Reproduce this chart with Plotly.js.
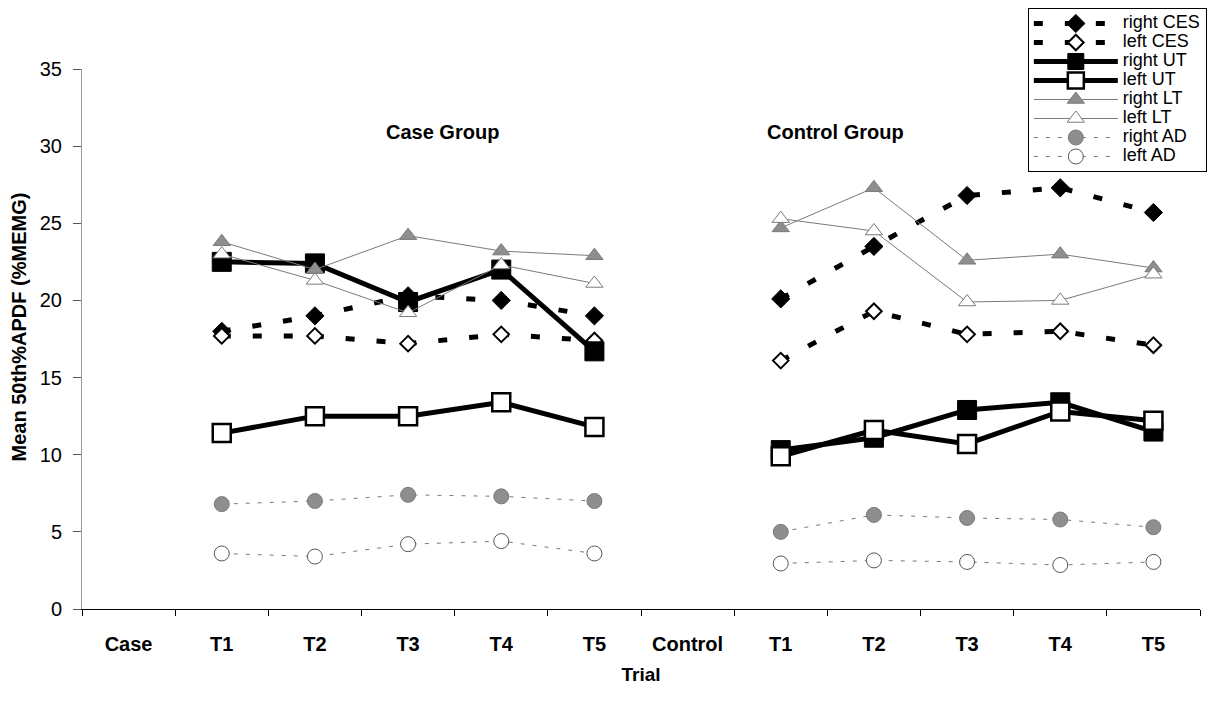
<!DOCTYPE html>
<html><head><meta charset="utf-8">
<script src="https://cdn.plot.ly/plotly-3.0.1.min.js"></script>
<style>html,body{margin:0;padding:0;background:#fff}#chart{width:1227px;height:712px}</style>
</head><body><div id="chart"></div>
<script>
// Category labels along the trial axis (two groups, five trials each)
const tickLabels = ['Case', 'T1', 'T2', 'T3', 'T4', 'T5', 'Control', 'T1', 'T2', 'T3', 'T4', 'T5'];
const seriesNames = ['right CES', 'left CES', 'right UT', 'left UT', 'right LT', 'left LT', 'right AD', 'left AD'];
const groupTitles = ['Case Group', 'Control Group'];

// Mean 50th percentile APDF (%MEMG), trials T1..T5
const caseRightCES = [18.0, 19.0, 20.3, 20.0, 19.0];
const caseLeftCES  = [17.7, 17.7, 17.2, 17.8, 17.4];
const caseRightUT  = [22.5, 22.4, 19.9, 22.0, 16.7];
const caseLeftUT   = [11.4, 12.5, 12.5, 13.4, 11.8];
const caseRightLT  = [23.8, 22.0, 24.2, 23.2, 22.9];
const caseLeftLT   = [23.0, 21.3, 19.2, 22.3, 21.1];
const caseRightAD  = [6.8, 7.0, 7.4, 7.3, 7.0];
const caseLeftAD   = [3.6, 3.4, 4.2, 4.4, 3.6];

const controlRightCES = [20.1, 23.5, 26.8, 27.3, 25.7];
const controlLeftCES  = [16.1, 19.3, 17.8, 18.0, 17.1];
const controlRightUT  = [10.3, 11.1, 12.9, 13.4, 11.5];
const controlLeftUT   = [9.9, 11.6, 10.7, 12.8, 12.2];
const controlRightLT  = [24.7, 27.3, 22.6, 23.0, 22.1];
const controlLeftLT   = [25.3, 24.5, 19.9, 20.0, 21.7];
const controlRightAD  = [5.0, 6.1, 5.9, 5.8, 5.3];
const controlLeftAD   = [2.95, 3.15, 3.05, 2.85, 3.05];

const caseSeries = [caseRightCES, caseLeftCES, caseRightUT, caseLeftUT, caseRightLT, caseLeftLT, caseRightAD, caseLeftAD];
const controlSeries = [controlRightCES, controlLeftCES, controlRightUT, controlLeftUT, controlRightLT, controlLeftLT, controlRightAD, controlLeftAD];

// x positions are the indices of the tick labels; the "Control" slot stays empty so the groups are not joined
const xs = tickLabels.map((_, i) => i).slice(1);

const GRAY = '#7a7a7a';
const FILLGRAY = '#8e8e8e';
const styles = [
  { line: { color: '#000', width: 5, dash: '9px,22px' }, marker: { symbol: 'diamond', size: 14, color: '#000', line: { color: '#000', width: 1 } } },
  { line: { color: '#000', width: 5, dash: '9px,22px' }, marker: { symbol: 'diamond', size: 12, color: '#fff', line: { color: '#000', width: 2 } } },
  { line: { color: '#000', width: 5 }, marker: { symbol: 'square', size: 19, color: '#000', line: { color: '#000', width: 1 } } },
  { line: { color: '#000', width: 5 }, marker: { symbol: 'square', size: 18, color: '#fff', line: { color: '#000', width: 2.5 } } },
  { line: { color: GRAY, width: 1 }, marker: { symbol: 'triangle-up', size: 15, color: FILLGRAY, line: { color: GRAY, width: 1 } } },
  { line: { color: GRAY, width: 1 }, marker: { symbol: 'triangle-up', size: 15, color: '#fff', line: { color: GRAY, width: 1 } } },
  { line: { color: GRAY, width: 1, dash: '4px,8px' }, marker: { symbol: 'circle', size: 15, color: FILLGRAY, line: { color: GRAY, width: 1 } } },
  { line: { color: GRAY, width: 1, dash: '4px,8px' }, marker: { symbol: 'circle', size: 15, color: '#fff', line: { color: '#555', width: 1 } } }
];

const traces = seriesNames.map((name, i) => ({
  type: 'scatter',
  mode: 'lines+markers',
  // legend rows stay compact while the label itself is drawn larger
  name: '<span style="font-size:18px">' + name + '</span>',
  x: xs,
  y: caseSeries[i].concat([null], controlSeries[i]),
  connectgaps: false,
  line: styles[i].line,
  marker: styles[i].marker,
  hoverinfo: 'y'
}));

const FONT = '"Liberation Sans", Arial, Helvetica, sans-serif';

const layout = {
  width: 1227,
  height: 712,
  paper_bgcolor: '#fff',
  plot_bgcolor: '#fff',
  margin: { l: 82, r: 27, t: 69, b: 103, autoexpand: false },
  font: { family: FONT, color: '#000', size: 16 },
  showlegend: true,
  legend: {
    x: 0.846, y: 1.113, xanchor: 'left', yanchor: 'top',
    bgcolor: '#fff', bordercolor: '#000', borderwidth: 1,
    font: { family: FONT, size: 12, color: '#000' },
    itemwidth: 84, tracegroupgap: 0, traceorder: 'normal'
  },
  xaxis: {
    range: [-0.5, 11.5],
    tickmode: 'array',
    tickvals: tickLabels.map((_, i) => i),
    ticktext: tickLabels,
    ticks: '',
    ticklabelstandoff: 17,
    tickfont: { family: FONT, size: 20, color: '#000', weight: 'bold' },
    minor: { tickmode: 'linear', tick0: -0.5, dtick: 1, ticks: 'outside', ticklen: 6, tickcolor: '#000', tickwidth: 1, showgrid: false },
    showline: true, linecolor: '#000', linewidth: 1,
    showgrid: false, zeroline: false, fixedrange: true,
    title: { text: 'Trial', font: { family: FONT, size: 19, color: '#000', weight: 'bold' }, standoff: 13 }
  },
  yaxis: {
    range: [0, 35],
    tickmode: 'linear', tick0: 0, dtick: 5,
    ticks: 'outside', ticklen: 8, tickcolor: '#555', tickwidth: 1,
    ticklabelstandoff: 7,
    tickfont: { family: FONT, size: 20, color: '#000' },
    showline: true, linecolor: '#999', linewidth: 1,
    showgrid: false, zeroline: false, fixedrange: true
  },
  annotations: [
    { text: 'Mean 50th%APDF (%MEMG)', textangle: -90, xref: 'paper', yref: 'paper', x: -0.056, y: 0.522, xanchor: 'center', yanchor: 'middle', showarrow: false,
      font: { family: FONT, size: 20, color: '#000', weight: 'bold' } },
    { text: groupTitles[0], xref: 'x', yref: 'y', x: 3.37, y: 30.9, showarrow: false, font: { family: FONT, size: 20, color: '#000', weight: 'bold' } },
    { text: groupTitles[1], xref: 'x', yref: 'y', x: 7.59, y: 30.9, showarrow: false, font: { family: FONT, size: 20, color: '#000', weight: 'bold' } }
  ]
};

Plotly.newPlot('chart', traces, layout, { displayModeBar: false, staticPlot: true });
</script>
</body></html>
